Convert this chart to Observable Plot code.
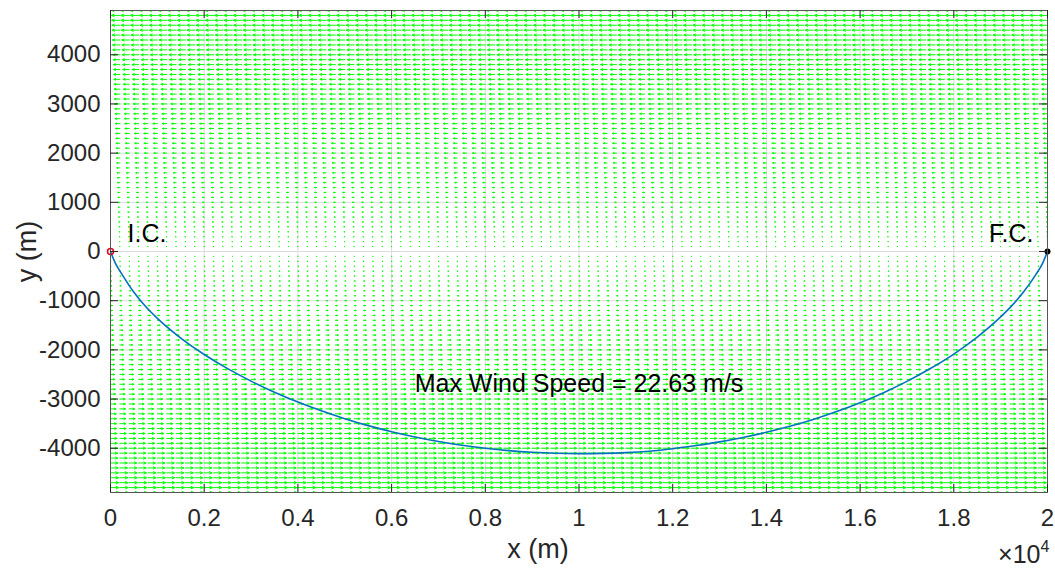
<!DOCTYPE html>
<html><head><meta charset="utf-8">
<script src="https://cdn.jsdelivr.net/npm/d3@7"></script>
<script src="https://cdn.jsdelivr.net/npm/@observablehq/plot@0.6"></script>
<style>html,body{margin:0;padding:0;background:#fff;} svg{display:block;}</style>
</head><body><div id="chart"></div>
<script>
// ---- data ----
const xTicks = [0, 2000, 4000, 6000, 8000, 10000, 12000, 14000, 16000, 18000, 20000];
const xTickLabels = ["0", "0.2", "0.4", "0.6", "0.8", "1", "1.2", "1.4", "1.6", "1.8", "2"];
const yTicks = [-4000, -3000, -2000, -1000, 0, 1000, 2000, 3000, 4000];
const xDomain = [0, 20000];
const yDomain = [-4900, 4900];

// trajectory (x, y) in metres
const trajX = [0, 100, 250, 500, 750, 1000, 1500, 2000, 2500, 3000, 3500, 4000, 4500, 5000, 5500, 6000, 6500, 7000, 7500, 8000, 8500, 9000, 9500, 10000,
  10500, 11000, 11500, 12000, 12500, 13000, 13500, 14000, 14500, 15000, 15500, 16000, 16500, 17000, 17500, 18000, 18500, 19000, 19250, 19500, 19750, 19900, 20000];
const trajY = [0, -230, -470, -830, -1120, -1360, -1760, -2094, -2382, -2635, -2861, -3062, -3240, -3399, -3540, -3663, -3770, -3862, -3939, -4001, -4049, -4083, -4103, -4110,
  -4105, -4090, -4060, -4010, -3945, -3870, -3780, -3675, -3555, -3415, -3255, -3075, -2870, -2640, -2380, -2085, -1740, -1330, -1090, -810, -470, -230, 0];

// wind field: horizontal, linear in y, zero at y = 0
const maxWind = 22.63;            // m/s at |y| = 4900
const quiverCols = 101;           // x = 0 .. 20000 step 200
const quiverRows = 99;            // y = -4900 .. 4900 step 100
const quiverDx = 200, quiverDy = 100;

const icPoint = [{x: 0, y: 0}];
const fcPoint = [{x: 20000, y: 0}];
const windText = [{x: 10000, y: -2700, text: "Max Wind Speed = 22.63 m/s"}];
const xLabel = "x (m)", yLabel = "y (m)", expBase = "\u00d710", expPower = "4";

// ---- build quiver table ----
const quiver = [];
for (let j = 0; j < quiverRows; j++) {
  const y = yDomain[0] + j * quiverDy;
  const u = -maxWind * y / yDomain[1];
  if (u === 0) continue;
  for (let i = 0; i < quiverCols; i++) {
    quiver.push({x: i * quiverDx, y, u});
  }
}
const arrowScale = 0.9 * quiverDx / maxWind;
const traj = trajX.map((x, i) => ({x, y: trajY[i]}));

const W = 1055, H = 569;
const mL = 110, mR = 8, mT = 10, mB = 77;
const innerW = W - mL - mR, innerH = H - mT - mB;
const font = "'Liberation Sans', Arial, Helvetica, sans-serif";
const ink = "#262626";

const plot = Plot.plot({
  width: W, height: H,
  marginLeft: mL, marginRight: mR, marginTop: mT, marginBottom: mB,
  style: {fontFamily: font, background: "#fff", color: ink},
  x: {domain: xDomain},
  y: {domain: yDomain},
  marks: [
    Plot.gridX(xTicks, {stroke: "#dcdcdc", strokeOpacity: 1}),
    Plot.gridY(yTicks, {stroke: "#dcdcdc", strokeOpacity: 1}),
    Plot.arrow(quiver, {
      x1: "x", y1: "y", x2: d => d.x + d.u * arrowScale, y2: "y",
      stroke: "#00ff00", strokeWidth: 1, headLength: 8, headAngle: 50, clip: true
    }),
    Plot.line(traj, {x: "x", y: "y", stroke: "#0072BD", strokeWidth: 1.6, curve: "monotone-x"}),
    Plot.dot(icPoint, {x: "x", y: "y", r: 3, stroke: "#e0001b", strokeWidth: 1.5, fill: "none"}),
    Plot.dot(fcPoint, {x: "x", y: "y", r: 3, fill: "#000", stroke: "none"}),
    Plot.text(icPoint, {x: "x", y: "y", text: () => "I.C.", textAnchor: "start", lineAnchor: "middle", dx: 17, dy: -18, fontSize: 25, fill: "#000"}),
    Plot.text(fcPoint, {x: "x", y: "y", text: () => "F.C.", textAnchor: "end", lineAnchor: "middle", dx: -14, dy: -18, fontSize: 25, fill: "#000"}),
    Plot.text(windText, {x: "x", y: "y", text: "text", textAnchor: "middle", lineAnchor: "middle", fontSize: 25, fill: "#000"}),
    Plot.frame({stroke: "#555", strokeWidth: 1}),
    // inward ticks (left, right, bottom, top)
    Plot.tickY(yTicks, {y: d => d, stroke: ink, insetRight: innerW - 8}),
    Plot.tickY(yTicks, {y: d => d, stroke: ink, insetLeft: innerW - 8}),
    Plot.tickX(xTicks, {x: d => d, stroke: ink, insetTop: innerH - 8}),
    Plot.tickX(xTicks, {x: d => d, stroke: ink, insetBottom: innerH - 8}),
    Plot.axisX(xTicks, {tickSize: 0, tickPadding: 16, fontSize: 24, color: ink, label: null,
      tickFormat: (d) => xTickLabels[xTicks.indexOf(d)]}),
    Plot.axisY(yTicks, {tickSize: 0, tickPadding: 10, fontSize: 24, color: ink, label: null,
      tickFormat: d => String(d)}),
    Plot.text([xLabel], {frameAnchor: "bottom", text: d => d, textAnchor: "middle", dx: -41, dy: 57, fontSize: 27, fill: ink, lineAnchor: "middle"}),
    Plot.text([yLabel], {frameAnchor: "left", y: () => 0, text: d => d, textAnchor: "middle", dx: -83, rotate: -90, fontSize: 27, fill: ink, lineAnchor: "middle"}),
    Plot.text([expBase], {frameAnchor: "bottom-right", text: d => d, textAnchor: "end", dx: -7, dy: 62, fontSize: 25, fill: ink, lineAnchor: "middle"}),
    Plot.text([expPower], {frameAnchor: "bottom-right", text: d => d, textAnchor: "start", dx: -7, dy: 54, fontSize: 16, fill: ink, lineAnchor: "middle"})
  ]
});
document.getElementById("chart").appendChild(plot);
</script>
</body></html>
